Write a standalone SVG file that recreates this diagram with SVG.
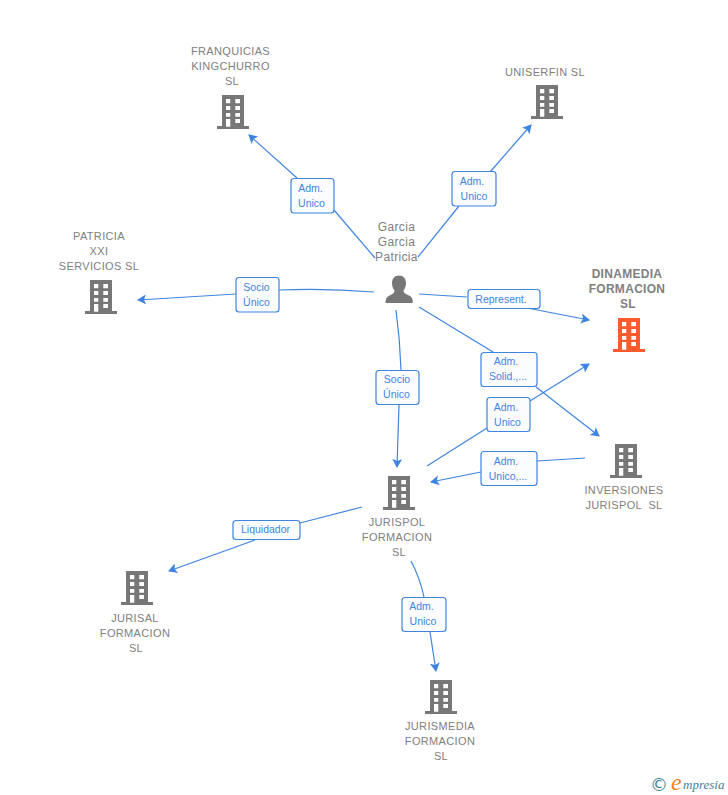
<svg xmlns="http://www.w3.org/2000/svg" width="728" height="795" viewBox="0 0 728 795">
<style>
.c{fill:none;stroke:#3f84e0;stroke-width:1.2}
.a{marker-end:url(#ah)}
.box{fill:#fbfcfe;stroke:#3f84e0;stroke-width:1.2}
.lt{font:10.5px "Liberation Sans",Arial,sans-serif;fill:#3f84e0;text-anchor:middle}
.nt{font:11px "Liberation Sans",Arial,sans-serif;fill:#808080;text-anchor:middle;letter-spacing:.35px;white-space:pre}
.pt{font:12px "Liberation Sans",Arial,sans-serif;fill:#808080;text-anchor:middle;letter-spacing:.35px}
.bt{font:bold 12px "Liberation Sans",Arial,sans-serif;fill:#808080;text-anchor:middle;letter-spacing:.3px}
</style>
<defs>
<marker id="ah" markerUnits="userSpaceOnUse" markerWidth="14" markerHeight="14" refX="8" refY="5" orient="auto"><path d="M0 0L9 5L0 10L2 5Z" fill="#3f84e0"/></marker>
<path id="b" fill-rule="evenodd" d="M5 0H27V31H32V34H0V31H5ZM9 4V8.300H13.300V4ZM18.300 4V8.300H23V4ZM9 11V15H13.300V11ZM18.300 11V15H23V11ZM9 18V21.700H13.300V18ZM18.300 18V21.700H23V18ZM9 24V31.700H13.300V24ZM18.300 24V28H23V24Z"/>
</defs>
<g id="connectors">
<path class="c" d="M375 258L334 210"/><path class="c a" d="M297 178L249 135"/>
<path class="c" d="M418 257L459 206"/><path class="c a" d="M490 172L531 125"/>
<path class="c" d="M374 292Q325 288 279 290"/><path class="c a" d="M236 294L138 300"/>
<path class="c" d="M419 294L467 297"/><path class="c a" d="M527 308L589 320"/>
<path class="c" d="M419 307L493 352"/><path class="c a" d="M536 387L599 436"/>
<path class="c" d="M427 466L487 428"/><path class="c a" d="M530 401L589 364"/>
<path class="c" d="M585 458L537 461"/><path class="c a" d="M481 472L431 482"/>
<path class="c" d="M396 310Q400 340 401 370"/><path class="c a" d="M399 405L397 467"/>
<path class="c" d="M362 507L300 523"/><path class="c a" d="M255 540L169 571"/>
<path class="c" d="M411 561Q420 578 424 597"/><path class="c a" d="M430 632L436 671"/>
</g>
<g id="lbl-franq"><rect class="box" x="291" y="178.500" width="43" height="34.500" rx="3"/><text class="lt" x="310.500" y="192">Adm.</text><text class="lt" x="311.500" y="207">Unico</text></g>
<g id="lbl-unis"><rect class="box" x="452" y="171.500" width="44" height="34.500" rx="3"/><text class="lt" x="472" y="185">Adm.</text><text class="lt" x="474" y="200">Unico</text></g>
<g id="lbl-patr"><rect class="box" x="236" y="277.500" width="43" height="34.500" rx="3"/><text class="lt" x="256.500" y="291">Socio</text><text class="lt" x="256.500" y="306">Único</text></g>
<g id="lbl-rep"><rect class="box" x="468" y="289.500" width="72" height="19" rx="3"/><text class="lt" x="501" y="303">Represent.</text></g>
<g id="lbl-solid"><rect class="box" x="481" y="352.500" width="56" height="34" rx="3"/><text class="lt" x="506" y="365">Adm.</text><text class="lt" x="508" y="380">Solid.,...</text></g>
<g id="lbl-dina"><rect class="box" x="487" y="397.500" width="43" height="34" rx="3"/><text class="lt" x="506" y="411">Adm.</text><text class="lt" x="507.500" y="426">Unico</text></g>
<g id="lbl-inv"><rect class="box" x="481" y="451.500" width="56" height="34" rx="3"/><text class="lt" x="506" y="465">Adm.</text><text class="lt" x="508" y="480">Unico,...</text></g>
<g id="lbl-socio"><rect class="box" x="376" y="370.500" width="43" height="34" rx="3"/><text class="lt" x="397" y="383">Socio</text><text class="lt" x="396.500" y="398">Único</text></g>
<g id="lbl-liq"><rect class="box" x="233" y="520.500" width="67" height="19" rx="3"/><text class="lt" x="265.500" y="533">Liquidador</text></g>
<g id="lbl-jm"><rect class="box" x="402" y="597.500" width="44" height="34" rx="3"/><text class="lt" x="421.500" y="610">Adm.</text><text class="lt" x="423" y="625">Unico</text></g>
<g id="n-franq"><use href="#b" x="217" y="95" fill="#777"/><text class="nt" x="230.500" y="55">FRANQUICIAS</text><text class="nt" x="230.500" y="70">KINGCHURRO</text><text class="nt" x="232" y="85">SL</text></g>
<g id="n-unis"><use href="#b" x="531" y="85" fill="#777"/><text class="nt" x="545" y="76">UNISERFIN SL</text></g>
<g id="n-patr"><use href="#b" x="85" y="280" fill="#777"/><text class="nt" x="99" y="240">PATRICIA</text><text class="nt" x="99" y="255">XXI</text><text class="nt" x="99" y="270">SERVICIOS SL</text></g>
<g id="n-dina"><use href="#b" x="613" y="318" fill="#ff5a2b"/><text class="bt" x="627" y="278">DINAMEDIA</text><text class="bt" x="627" y="293">FORMACION</text><text class="bt" x="628" y="308">SL</text></g>
<g id="n-inv"><use href="#b" x="610" y="444" fill="#777"/><text class="nt" x="624" y="494">INVERSIONES</text><text class="nt" x="624" y="509">JURISPOL  SL</text></g>
<g id="n-jurispol"><use href="#b" x="383" y="476" fill="#777"/><text class="nt" x="397" y="526">JURISPOL</text><text class="nt" x="397" y="541">FORMACION</text><text class="nt" x="399" y="556">SL</text></g>
<g id="n-jurisal"><use href="#b" x="121" y="571" fill="#777"/><text class="nt" x="135" y="622">JURISAL</text><text class="nt" x="135" y="637">FORMACION</text><text class="nt" x="136" y="652">SL</text></g>
<g id="n-jm"><use href="#b" x="425" y="680" fill="#777"/><text class="nt" x="440" y="730">JURISMEDIA</text><text class="nt" x="440" y="745">FORMACION</text><text class="nt" x="441" y="760">SL</text></g>
<g id="n-person"><path fill="#777" d="M399 275.500C403.500 275.500 406 279 406 283C406 286 405 288.500 403.500 290.500C403.500 293 406 294 409 295.500C412 297 412.800 299 412.800 303H385.500C385.500 299 386.500 297 389.500 295.500C392.500 294 394.500 293 394.500 290.500C393 288.500 392 286 392 283C392 279 394.500 275.500 399 275.500Z"/><text class="pt" x="396.500" y="231">Garcia</text><text class="pt" x="396.500" y="246">Garcia</text><text class="pt" x="396.500" y="261">Patricia</text></g>
<g id="logo"><text x="650" y="791" font-family="'DejaVu Sans',sans-serif" font-size="18" fill="#3f7f93">©</text><text x="671" y="790" font-family="'Liberation Serif',serif" font-style="italic" font-size="24" fill="#f58220">e</text><text x="683" y="789" font-family="'Liberation Serif',serif" font-style="italic" font-size="13" fill="#3f7f93">mpresia</text></g>
</svg>
